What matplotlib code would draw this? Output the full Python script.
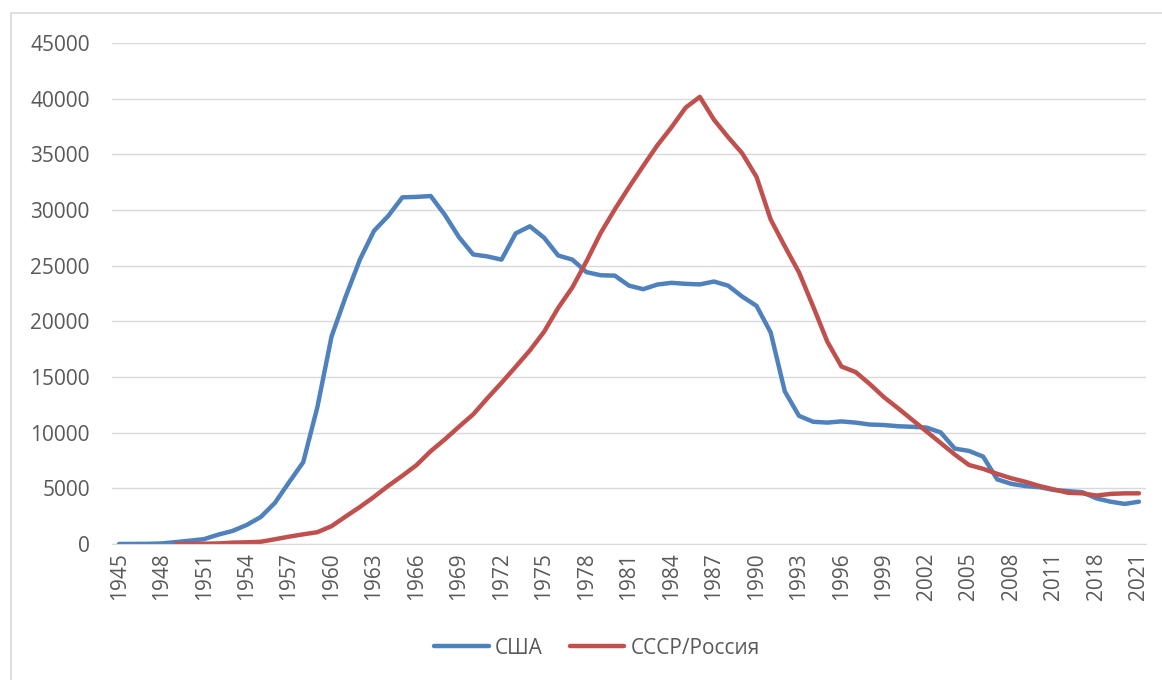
import matplotlib.pyplot as plt
from matplotlib.patches import Rectangle

plt.rcParams['font.family'] = ['Open Sans', 'DejaVu Sans']

# годы (после 2012 часть лет пропущена)
years = list(range(1945, 2013)) + [2017, 2018, 2019, 2020, 2021]

usa = [2, 9, 13, 50, 170, 299, 438, 841, 1169, 1703,
       2422, 3692, 5543, 7345, 12298, 18638, 22229, 25540, 28133, 29463,
       31139, 31175, 31255, 29561, 27552, 26008, 25830, 25541, 27899, 28537,
       27519, 25914, 25542, 24418, 24138, 24104, 23208, 22886, 23305, 23459,
       23368, 23317, 23575, 23205, 22217, 21392, 19008, 13708, 11511, 10979,
       10904, 11011, 10903, 10732, 10685, 10577, 10526, 10457, 10027, 8570,
       8360, 7853, 5800, 5400, 5200, 5100, 4850, 4750,
       4650, 4100, 3800, 3600, 3800]

ussr = [None, None, None, None, 1, 5, 25, 50, 120, 150,
        200, 426, 660, 869, 1060, 1605, 2471, 3322, 4238, 5221,
        6129, 7089, 8339, 9399, 10538, 11643, 13092, 14478, 15915, 17385,
        19055, 21205, 23044, 25393, 27935, 30062, 32049, 33952, 35804, 37431,
        39197, 40159, 38107, 36538, 35078, 32980, 29154, 26734, 24403, 21339,
        18179, 15942, 15442, 14368, 13188, 12188, 11152, 10114, 9076, 8038,
        7100, 6750, 6300, 5900, 5580, 5200, 4900, 4600,
        4550, 4350, 4500, 4550, 4550]

x = list(range(len(years)))
ussr_x = [i for i, v in zip(x, ussr) if v is not None]
ussr_y = [v for v in ussr if v is not None]

fig = plt.figure(figsize=(11.62, 6.80), dpi=100)
ax = fig.add_axes([112 / 1162, 1 - 544 / 680, (1146 - 112) / 1162, (544 - 43) / 680])

# рамка области диаграммы
fig.patches.append(Rectangle((11 / 1162, -0.1), 1.2, 1 - 13 / 680 + 0.1,
                             transform=fig.transFigure, fill=False,
                             edgecolor='#D9D9D9', linewidth=1.2))

ax.plot(x, usa, color='#4F81BD', linewidth=3.2, label='США',
        solid_joinstyle='round', solid_capstyle='round')
ax.plot(ussr_x, ussr_y, color='#C0504D', linewidth=3.2, label='СССР/Россия',
        solid_joinstyle='round', solid_capstyle='round')

ax.set_xlim(-0.5, len(years) - 0.5)
ax.set_ylim(0, 45000)
ax.set_yticks(range(0, 45001, 5000))
ax.set_xticks(x[::3])
ax.set_xticklabels([str(y) for y in years[::3]], rotation=90)

ax.grid(axis='y', color='#D9D9D9', linewidth=1)
ax.set_axisbelow(True)
for s in ['top', 'right', 'left']:
    ax.spines[s].set_visible(False)
ax.spines['bottom'].set_color('#D9D9D9')
ax.tick_params(length=0, labelsize=15, colors='#595959')
ax.tick_params(axis='y', pad=16)
ax.tick_params(axis='x', pad=6)

leg = fig.legend(loc='center', bbox_to_anchor=(597 / 1162, 1 - 648 / 680), ncol=2,
                 frameon=False, fontsize=15, handlelength=2.6, handletextpad=0.3,
                 columnspacing=1.3)
for t in leg.get_texts():
    t.set_color('#595959')

fig.savefig('out.png', dpi=100)
